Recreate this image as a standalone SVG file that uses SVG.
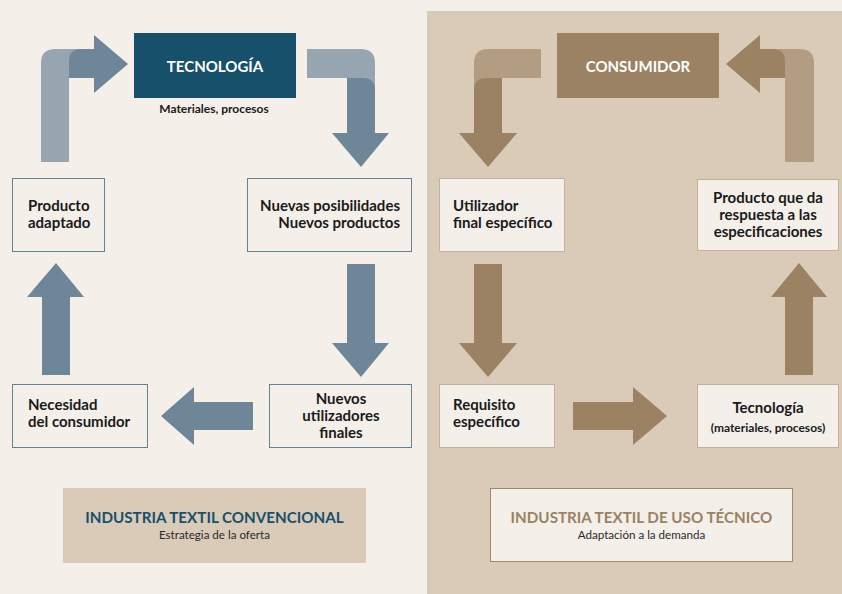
<svg xmlns="http://www.w3.org/2000/svg" width="842" height="594" viewBox="0 0 842 594">
<style>
.t{font-family:Lato,"Open Sans","Liberation Sans",sans-serif;font-weight:bold;font-size:15px;fill:#1a1a1a}
.bl{fill:#6f8598}.bll{fill:#97a5b0}
.br{fill:#9a8262}.brl{fill:#b39d82}
.bxl{fill:#f4f0e9;stroke:#5f8497;stroke-width:1}
.bxr{fill:#f4f0e9;stroke:#c4b29a;stroke-width:1}
.hd{font-family:Lato,"Open Sans","Liberation Sans",sans-serif;font-weight:bold;font-size:15px;fill:#ffffff;text-anchor:middle}
.ti{font-family:Lato,"Open Sans","Liberation Sans",sans-serif;font-weight:bold;font-size:15.2px;text-anchor:middle}
.su{font-family:Lato,"Open Sans","Liberation Sans",sans-serif;font-size:11.6px;fill:#2a2a2a;text-anchor:middle}
</style>
<rect x="0" y="0" width="842" height="594" fill="#f4f0e9"/>
<rect x="427" y="11" width="415" height="583" fill="#dacbb8"/>

<g id="connectors">
  <path class="bll" d="M41,162 V63 Q41,49 55,49 H80 V78 H69 V162 Z"/>
  <path class="bl" d="M69,78 V61 Q69,49 81,49 H94 V35 L128,64 L94,93 V78 Z"/>
  <path class="bll" d="M307,49 H361 Q375,49 375,63 V92 H347 V78 H307 Z"/>
  <path class="bl" d="M347,78 H363 Q375,78 375,90 V133 H389 L361,167 L332,133 H347 Z"/>
  <path class="bl" d="M347,264 H375 V343 H389 L361,377 L332,343 H347 Z"/>
  <path class="bl" d="M253,402 V430 H194 V445 L161,416 L194,387 V402 Z"/>
  <path class="bl" d="M42,375 V297 H27 L56,263 L84,297 H70 V375 Z"/>

  <path class="brl" d="M541,49 H488 Q474,49 474,63 V92 H502 V78 H541 Z"/>
  <path class="br" d="M502,78 H486 Q474,78 474,90 V133 H459 L488,167 L517,133 H502 Z"/>
  <path class="brl" d="M785,162 V78 H773 V49 H800 Q814,49 814,63 V162 Z"/>
  <path class="br" d="M785,78 V61 Q785,49 773,49 H760 V35 L726,64 L760,93 V78 Z"/>
  <path class="br" d="M474,264 H502 V343 H517 L488,377 L459,343 H474 Z"/>
  <path class="br" d="M573,402 H633 V387 L667,416 L633,445 V430 H573 Z"/>
  <path class="br" d="M785,375 V297 H771 L799,263 L827,297 H813 V375 Z"/>
</g>

<g id="tecnologia">
  <rect x="134" y="33" width="162" height="65" fill="#17506b"/>
  <text class="hd" x="215" y="72">TECNOLOGÍA</text>
  <text class="t" x="214" y="113" text-anchor="middle" style="font-size:12px">Materiales, procesos</text>
</g>
<g id="consumidor">
  <rect x="557" y="33" width="162" height="65" fill="#9a8262"/>
  <text class="hd" x="638" y="72">CONSUMIDOR</text>
</g>

<g id="producto-adaptado">
  <rect class="bxl" x="12.5" y="178.5" width="92" height="73"/>
  <text class="t" x="28" y="211">Producto</text>
  <text class="t" x="28" y="228">adaptado</text>
</g>
<g id="nuevas-posibilidades">
  <rect class="bxl" x="247.5" y="178.5" width="164" height="73"/>
  <text class="t" x="400" y="211" text-anchor="end">Nuevas posibilidades</text>
  <text class="t" x="400" y="228" text-anchor="end">Nuevos productos</text>
</g>
<g id="nuevos-utilizadores">
  <rect class="bxl" x="269.5" y="384.5" width="142" height="63"/>
  <text class="t" x="341" y="404" text-anchor="middle">Nuevos</text>
  <text class="t" x="341" y="421" text-anchor="middle">utilizadores</text>
  <text class="t" x="341" y="438" text-anchor="middle">finales</text>
</g>
<g id="necesidad">
  <rect class="bxl" x="12.5" y="384.5" width="135" height="63"/>
  <text class="t" x="28" y="410">Necesidad</text>
  <text class="t" x="28" y="427">del consumidor</text>
</g>

<g id="utilizador-final">
  <rect class="bxr" x="439.5" y="178.5" width="125" height="73"/>
  <text class="t" x="453" y="211">Utilizador</text>
  <text class="t" x="453" y="228">final específico</text>
</g>
<g id="requisito">
  <rect class="bxr" x="439.5" y="384.5" width="115" height="63"/>
  <text class="t" x="453" y="410">Requisito</text>
  <text class="t" x="453" y="427">específico</text>
</g>
<g id="tecnologia-materiales">
  <rect class="bxr" x="697.5" y="384.5" width="141" height="63"/>
  <text class="t" x="768" y="413" text-anchor="middle">Tecnología</text>
  <text class="t" x="768" y="432" text-anchor="middle" style="font-size:12px">(materiales, procesos)</text>
</g>
<g id="producto-especificaciones">
  <rect class="bxr" x="697.5" y="179.5" width="141" height="71"/>
  <text class="t" x="768" y="203" text-anchor="middle">Producto que da</text>
  <text class="t" x="768" y="220" text-anchor="middle">respuesta a las</text>
  <text class="t" x="768" y="237" text-anchor="middle">especificaciones</text>
</g>

<g id="industria-convencional">
  <rect x="63" y="488" width="303" height="75" fill="#dacbb8"/>
  <text class="ti" x="214.5" y="523" fill="#17506b">INDUSTRIA TEXTIL CONVENCIONAL</text>
  <text class="su" x="214.5" y="539">Estrategia de la oferta</text>
</g>
<g id="industria-tecnico">
  <rect x="490.5" y="488.5" width="302" height="73" fill="#f4f0e9" stroke="#a08a6c" stroke-width="1"/>
  <text class="ti" x="641.5" y="523" fill="#9a8262">INDUSTRIA TEXTIL DE USO TÉCNICO</text>
  <text class="su" x="641.5" y="539">Adaptación a la demanda</text>
</g>
</svg>
